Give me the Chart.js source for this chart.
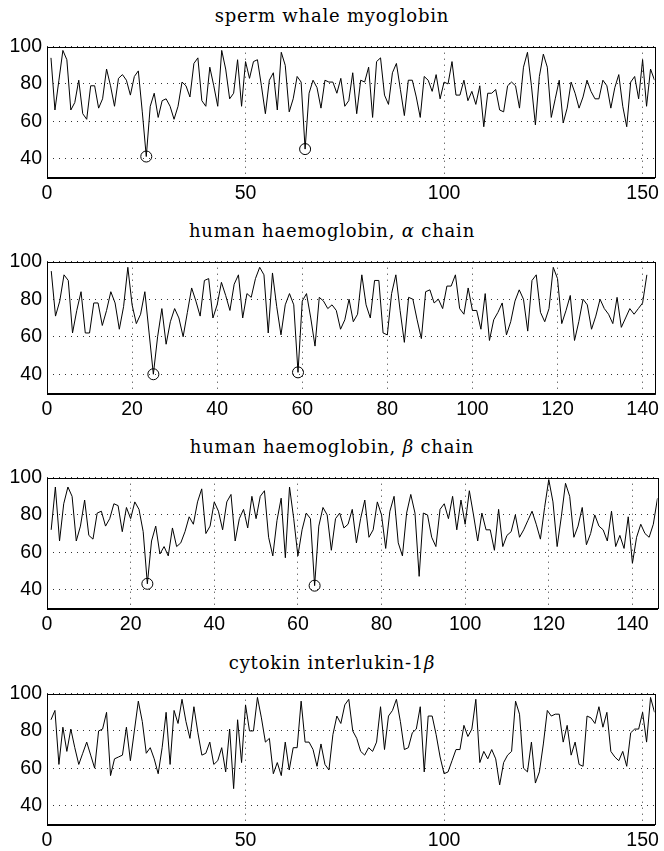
<!DOCTYPE html>
<html>
<head>
<meta charset="utf-8">
<script src="https://cdn.jsdelivr.net/npm/chart.js@4.4.1/dist/chart.umd.min.js"></script>
<style>
    body { margin: 0; background: #fff; }
    #fig { position: relative; width: 664px; height: 851px; overflow: hidden; }
    .ttl {
        position: absolute; left: 0; width: 664px; text-align: center;
        font-family: 'DejaVu Serif', serif; font-size: 18px; line-height: 1;
        letter-spacing: 0.8px; color: #000; white-space: nowrap;
    }
    canvas { position: absolute; left: 0; }
</style>
</head>
<body>
<div id="fig"></div>
<script>
// Values (one value per residue, index 1..n)
const myoglobinWhale = [
    94, 66, 82, 98, 93, 66, 70, 82, 64, 61, 79, 79, 67, 72, 88, 79, 68, 83, 85, 82,
    74, 84, 87, 65, 41, 68, 75, 62, 71, 72, 68, 61, 68, 81, 79, 73, 91, 94, 71, 68,
    89, 79, 68, 98, 88, 72, 75, 93, 68, 92, 83, 92, 93, 79, 64, 82, 86, 66, 97, 90,
    65, 72, 84, 81, 45, 75, 82, 78, 67, 82, 81, 81, 75, 83, 68, 71, 86, 64, 82, 81,
    89, 62, 92, 94, 74, 69, 86, 91, 77, 63, 82, 82, 73, 62, 84, 82, 76, 85, 72, 81,
    80, 92, 74, 74, 82, 71, 76, 69, 79, 57, 75, 75, 77, 66, 65, 79, 81, 79, 67, 89,
    97, 79, 58, 84, 96, 89, 62, 72, 82, 59, 67, 81, 75, 67, 73, 82, 76, 72, 72, 82,
    79, 67, 78, 85, 68, 57, 81, 84, 72, 93, 68, 88, 82
];
const haemoglobinAlpha = [
    95, 71, 79, 93, 90, 62, 74, 84, 62, 62, 78, 78, 66, 74, 84, 78, 64, 76, 97, 77,
    67, 72, 84, 62, 40, 60, 75, 56, 68, 75, 70, 60, 73, 86, 79, 71, 90, 91, 70, 77,
    89, 82, 74, 88, 93, 70, 83, 81, 91, 97, 93, 62, 94, 76, 61, 77, 83, 77, 41, 79,
    83, 70, 55, 81, 79, 75, 77, 74, 64, 69, 80, 68, 72, 93, 77, 70, 90, 90, 62, 61,
    83, 93, 74, 57, 81, 80, 69, 59, 84, 85, 78, 80, 75, 87, 87, 93, 75, 72, 86, 74,
    74, 64, 83, 58, 69, 73, 78, 61, 68, 79, 85, 80, 63, 90, 93, 73, 68, 75, 97, 91,
    67, 74, 82, 58, 68, 80, 77, 64, 71, 80, 75, 72, 67, 81, 65, 70, 75, 72, 75, 78,
    93
];
const haemoglobinBeta = [
    72, 95, 66, 86, 95, 90, 66, 74, 88, 69, 67, 81, 82, 74, 78, 86, 85, 71, 84, 78,
    87, 83, 71, 43, 66, 74, 59, 63, 58, 73, 63, 65, 71, 79, 75, 87, 94, 70, 74, 87,
    82, 72, 87, 91, 66, 78, 83, 73, 90, 78, 90, 93, 68, 58, 77, 89, 57, 95, 78, 58,
    72, 81, 78, 42, 74, 84, 80, 61, 78, 81, 73, 75, 83, 65, 78, 88, 68, 72, 87, 80,
    62, 82, 90, 65, 58, 81, 91, 81, 47, 81, 80, 68, 63, 83, 86, 78, 90, 72, 88, 75,
    93, 80, 66, 81, 72, 72, 61, 83, 63, 69, 71, 80, 68, 72, 77, 82, 75, 67, 84, 99,
    87, 63, 79, 97, 90, 68, 74, 84, 64, 70, 80, 74, 72, 66, 82, 63, 69, 62, 79, 54,
    68, 75, 70, 68, 75, 89
];
const interleukin1b = [
    86, 91, 62, 82, 69, 81, 71, 62, 68, 74, 67, 60, 80, 81, 90, 56, 65, 66, 67, 82,
    64, 80, 96, 85, 68, 71, 65, 57, 71, 90, 62, 91, 84, 97, 85, 76, 93, 79, 67, 68,
    74, 62, 64, 71, 58, 81, 49, 86, 63, 94, 80, 80, 98, 87, 74, 76, 57, 63, 56, 74,
    59, 71, 71, 96, 74, 74, 70, 61, 73, 62, 59, 78, 88, 84, 94, 97, 80, 76, 69, 67,
    71, 69, 74, 93, 70, 88, 91, 97, 85, 70, 71, 79, 81, 93, 58, 88, 88, 78, 66, 57,
    58, 64, 70, 70, 83, 77, 81, 97, 63, 69, 65, 70, 65, 51, 63, 67, 69, 96, 89, 60,
    58, 74, 52, 58, 73, 91, 88, 89, 89, 74, 83, 67, 74, 62, 61, 88, 87, 84, 93, 82,
    90, 69, 66, 64, 69, 61, 79, 81, 81, 90, 74, 98, 90
];

// Circled residues (1-based)
const whaleMarks = [25, 65];
const alphaMarks = [25, 59];
const betaMarks = [24, 64];
const cytokinMarks = [];

// Axis ticks
const yTicks = [40, 60, 80, 100];
const xTicks50 = [0, 50, 100, 150];
const xTicks20 = [0, 20, 40, 60, 80, 100, 120, 140];

const panels = [
    { title: 'sperm whale myoglobin', values: myoglobinWhale, marks: whaleMarks, xTicks: xTicks50, xMax: 153, top: 42, bottom: 177 },
    { title: 'human haemoglobin, <i>α</i> chain', values: haemoglobinAlpha, marks: alphaMarks, xTicks: xTicks20, xMax: 143, top: 257, bottom: 393 },
    { title: 'human haemoglobin, <i>β</i> chain', values: haemoglobinBeta, marks: betaMarks, xTicks: xTicks20, xMax: 146, top: 473, bottom: 608 },
    { title: 'cytokin interlukin-1<i>β</i>', values: interleukin1b, marks: cytokinMarks, xTicks: xTicks50, xMax: 153, top: 689, bottom: 824 }
];

const PAD_TOP = 12;
const X_AXIS_H = 34;
const tickFont = { family: "'Liberation Sans', Arial, sans-serif", size: 19.5 };

// Draws the box round the plot area (bottom edge a bit heavier, like the original)
const framePlugin = {
    id: 'frame',
    afterDatasetsDraw(chart) {
        const { ctx, chartArea: a } = chart;
        ctx.save();
        ctx.strokeStyle = '#000';
        ctx.lineWidth = 1;
        ctx.strokeRect(Math.round(a.left) + 0.5, Math.round(a.top) + 0.5,
            Math.round(a.right - a.left), Math.round(a.bottom - a.top));
        ctx.lineWidth = 2;
        ctx.beginPath();
        ctx.moveTo(a.left, Math.round(a.bottom) + 1);
        ctx.lineTo(a.right + 0.5, Math.round(a.bottom) + 1);
        ctx.stroke();
        ctx.restore();
    }
};

function renderPanel(p) {
    const fig = document.getElementById('fig');

    const ttl = document.createElement('div');
    ttl.className = 'ttl';
    ttl.innerHTML = p.title;
    ttl.style.top = (p.top - 35) + 'px';
    fig.appendChild(ttl);

    const h = PAD_TOP + (p.bottom - p.top) + X_AXIS_H;
    const canvas = document.createElement('canvas');
    canvas.width = 664;
    canvas.height = h;
    canvas.style.width = '664px';
    canvas.style.height = h + 'px';
    canvas.style.top = (p.top - PAD_TOP) + 'px';
    fig.appendChild(canvas);

    const line = p.values.map((v, i) => ({ x: i + 1, y: v }));
    const circles = p.marks.map(i => ({ x: i, y: p.values[i - 1] }));

    new Chart(canvas.getContext('2d'), {
        type: 'line',
        data: {
            datasets: [{
                data: line,
                borderColor: '#000',
                borderWidth: 1,
                pointRadius: 0,
                tension: 0,
                fill: false
            }, {
                data: circles,
                showLine: false,
                pointRadius: 5.5,
                pointBorderWidth: 1,
                pointBorderColor: '#000',
                pointBackgroundColor: 'rgba(0,0,0,0)'
            }]
        },
        options: {
            responsive: false,
            animation: false,
            devicePixelRatio: 1,
            layout: { padding: { top: PAD_TOP, right: 6, left: 0, bottom: 0 } },
            plugins: { legend: { display: false }, tooltip: { enabled: false } },
            scales: {
                x: {
                    type: 'linear',
                    min: 0,
                    max: p.xMax,
                    afterBuildTicks: s => { s.ticks = p.xTicks.map(v => ({ value: v })); },
                    afterFit: s => { s.height = X_AXIS_H; },
                    grid: { color: '#333', lineWidth: 1, drawTicks: false },
                    border: { display: false, dash: [1, 5] },
                    ticks: { color: '#000', font: tickFont, padding: 5, maxRotation: 0 }
                },
                y: {
                    min: 30,
                    max: 100,
                    afterBuildTicks: s => { s.ticks = yTicks.map(v => ({ value: v })); },
                    afterFit: s => { s.width = 47; },
                    grid: { color: '#333', lineWidth: 1, drawTicks: false },
                    border: { display: false, dash: [1, 5] },
                    ticks: { color: '#000', font: tickFont, padding: 5 }
                }
            }
        },
        plugins: [framePlugin]
    });
}

panels.forEach(renderPanel);
</script>
</body>
</html>
